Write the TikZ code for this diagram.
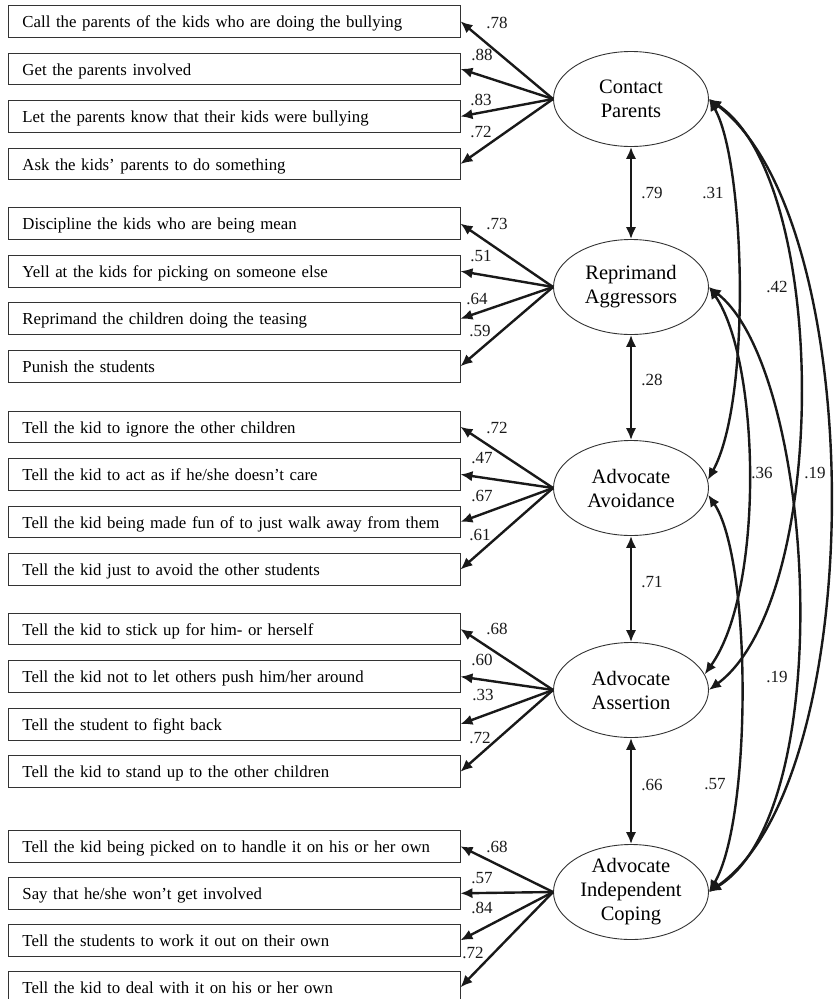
\documentclass[tikz,border=0pt]{standalone}
\usepackage{fontspec}
\setmainfont{Liberation Serif}
\usetikzlibrary{matrix,arrows.meta,shapes.geometric}
\newcommand{\itemfont}{\fontsize{16.8}{20}\selectfont}
\newcommand{\factorfont}{\fontsize{20.5}{24}\selectfont}
\newcommand{\coeffont}{\fontsize{17}{20}\selectfont}
\tikzset{
itembox/.style={
  rectangle,
  draw=black!80,
  line width=0.9pt,
  outer sep=0pt,
  inner xsep=14pt,
  inner ysep=0pt,
  text width=424pt,
  minimum height=31.7pt,
  text height=13pt,
  text depth=0.5pt,
  align=left,
  font=\itemfont
  },
itemmat/.style={
  matrix of nodes,
  anchor=north west,
  inner sep=0pt,
  outer sep=0pt,
  row sep=#1,
  nodes={itembox}
  },
itemmat/.default=14.97pt
}
\tikzset{
  factor/.style={
    ellipse,
    draw=black!80,
    line width=0.9pt,
    inner sep=0pt,
    minimum width=155pt,
    minimum height=95pt,
    align=center,
    font=\factorfont
  },
  coef/.style={inner sep=0pt, text=black!90, font=\coeffont},
  load/.style={->, draw=black!90, line width=2.4pt},
  cov/.style={<->, draw=black!90, line width=2.4pt}
}

\begin{document}
\begin{tikzpicture}[>={Latex[length=12pt,width=10.5pt]}, x=1pt, y=-1pt]
\useasboundingbox (0,0) rectangle (833,999);

\matrix[itemmat] at (8,5) (cpItems)
{
Call the parents of the kids who are doing the bullying \\
Get the parents involved \\
Let the parents know that their kids were bullying \\
Ask the kids’ parents to do something \\
};
\matrix[itemmat] at (8,207.3) (raItems)
{
Discipline the kids who are being mean \\
Yell at the kids for picking on someone else \\
Reprimand the children doing the teasing \\
Punish the students \\
};
\matrix[itemmat] at (8,410.5) (avItems)
{
Tell the kid to ignore the other children \\
Tell the kid to act as if he/she doesn’t care \\
Tell the kid being made fun of to just walk away from them \\
Tell the kid just to avoid the other students \\
};
\matrix[itemmat] at (8,612.7) (asItems)
{
Tell the kid to stick up for him- or herself \\
Tell the kid not to let others push him/her around \\
Tell the student to fight back \\
Tell the kid to stand up to the other children \\
};
\matrix[itemmat=14.4pt] at (8,830) (icItems)
{
Tell the kid being picked on to handle it on his or her own \\
Say that he/she won’t get involved \\
Tell the students to work it out on their own \\
Tell the kid to deal with it on his or her own \\
};

\node[factor] (cp) at (631,99) {Contact\\Parents};
\node[factor] (ra) at (631,287) {Reprimand\\Aggressors};
\node[factor] (av) at (631,488) {Advocate\\Avoidance};
\node[factor] (as) at (631,690) {Advocate\\Assertion};
\node[factor] (ic) at (631,892) {Advocate\\Independent\\Coping};

\begin{scope}
\draw[load] (cp.west) -- (cpItems-1-1.east);
\draw[load] (cp.west) -- (cpItems-2-1.east);
\draw[load] (cp.west) -- (cpItems-3-1.east);
\draw[load] (cp.west) -- (cpItems-4-1.east);
\draw[load] (ra.west) -- (raItems-1-1.east);
\draw[load] (ra.west) -- (raItems-2-1.east);
\draw[load] (ra.west) -- (raItems-3-1.east);
\draw[load] (ra.west) -- (raItems-4-1.east);
\draw[load] (av.west) -- (avItems-1-1.east);
\draw[load] (av.west) -- (avItems-2-1.east);
\draw[load] (av.west) -- (avItems-3-1.east);
\draw[load] (av.west) -- (avItems-4-1.east);
\draw[load] (as.west) -- (asItems-1-1.east);
\draw[load] (as.west) -- (asItems-2-1.east);
\draw[load] (as.west) -- (asItems-3-1.east);
\draw[load] (as.west) -- (asItems-4-1.east);
\draw[load] (ic.west) -- (icItems-1-1.east);
\draw[load] (ic.west) -- (icItems-2-1.east);
\draw[load] (ic.west) -- (icItems-3-1.east);
\draw[load] (ic.west) -- (icItems-4-1.east);
\end{scope}

\node[coef] (cpL1) at (497,23) {.78};
\node[coef] (cpL2) at (482,55) {.88};
\node[coef] (cpL3) at (481,100) {.83};
\node[coef] (cpL4) at (481,132) {.72};
\node[coef] (raL1) at (497,224) {.73};
\node[coef] (raL2) at (481,256) {.51};
\node[coef] (raL3) at (477,299) {.64};
\node[coef] (raL4) at (480,331) {.59};
\node[coef] (avL1) at (497,428) {.72};
\node[coef] (avL2) at (482,458) {.47};
\node[coef] (avL3) at (482,496) {.67};
\node[coef] (avL4) at (480,535) {.61};
\node[coef] (asL1) at (497,629) {.68};
\node[coef] (asL2) at (482,660) {.60};
\node[coef] (asL3) at (483,695) {.33};
\node[coef] (asL4) at (480,738) {.72};
\node[coef] (icL1) at (497,847) {.68};
\node[coef] (icL2) at (482,878) {.57};
\node[coef] (icL3) at (482,908) {.84};
\node[coef] (icL4) at (473,953) {.72};

\begin{scope}
\draw[cov] (cp.south) -- (ra.north);
\draw[cov] (ra.south) -- (av.north);
\draw[cov] (av.south) -- (as.north);
\draw[cov] (as.south) -- (ic.north);
\draw[cov] (cp.east) .. controls (745,160) and (752,400) .. (av.6);
\draw[cov] (cp.east) .. controls (830,180) and (830,600) .. (as.east);
\draw[cov] (cp.east) .. controls (870,220) and (870,780) .. (ic.east);
\draw[cov] (ra.east) .. controls (760,360) and (765,590) .. (as.12);
\draw[cov] (ra.east) .. controls (815,370) and (840,810) .. (ic.east);
\draw[cov] (av.-5) .. controls (752,560) and (752,820) .. (ic.east);
\end{scope}

\node[coef] (cpRa) at (652,193) {.79};
\node[coef] (raAv) at (652,380) {.28};
\node[coef] (avAs) at (652,582) {.71};
\node[coef] (asIc) at (652,785) {.66};
\node[coef] (cpAv) at (713,193) {.31};
\node[coef] (cpAs) at (777,287) {.42};
\node[coef] (raAs) at (762,473) {.36};
\node[coef] (cpIc) at (815,473) {.19};
\node[coef] (raIc) at (777,677) {.19};
\node[coef] (avIc) at (715,784) {.57};
\end{tikzpicture}
\end{document}
